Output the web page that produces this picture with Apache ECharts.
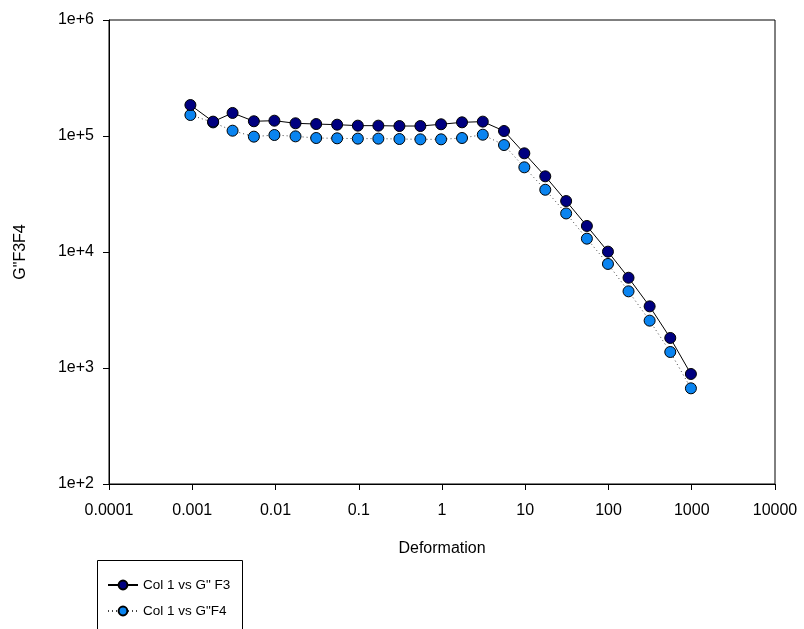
<!DOCTYPE html>
<html>
<head>
<meta charset="utf-8">
<script src="https://cdn.jsdelivr.net/npm/echarts@6/dist/echarts.min.js"></script>
<style>
html,body{margin:0;padding:0;background:#fff;}
#c{width:804px;height:629px;}
</style>
</head>
<body>
<div id="c"></div>
<script>
var xValues = [0.00095, 0.00178, 0.00305, 0.0055, 0.0097, 0.0174, 0.0308, 0.055, 0.0975, 0.172, 0.308, 0.55, 0.975, 1.74, 3.09, 5.56, 9.75, 17.4, 31, 55, 98.5, 174, 312, 552, 977];
var gF3 = [185000, 133000, 158000, 134000, 135500, 128700, 126800, 125200, 122800, 122800, 121900, 121900, 126200, 131200, 133000, 110400, 70900, 44900, 27500, 16760, 10070, 6000, 3400, 1815, 888];
var gF4 = [151700, 131000, 111100, 98700, 102000, 99300, 96100, 95500, 94900, 94900, 94200, 93600, 93600, 96100, 102600, 83600, 53700, 34400, 21500, 13030, 7890, 4580, 2560, 1374, 668];
var xTickLabels = ['0.0001', '0.001', '0.01', '0.1', '1', '10', '100', '1000', '10000'];
var yTickLabels = ['1e+2', '1e+3', '1e+4', '1e+5', '1e+6'];
var seriesNames = ['Col 1 vs G" F3', 'Col 1 vs G"F4'];
var xTitle = 'Deformation';
var yTitle = 'G"F3F4';

function pairs(xs, ys) { return xs.map(function (x, i) { return [x, ys[i]]; }); }

var chart = echarts.init(document.getElementById('c'), null, {renderer: 'canvas'});
var font = 'Liberation Sans, Arial, sans-serif';
chart.setOption({
  animation: false,
  backgroundColor: '#ffffff',
  grid: {left: 109, right: 29, top: 20, bottom: 145, show: true, borderColor: '#000', borderWidth: 1, containLabel: false},
  xAxis: {
    type: 'log', logBase: 10, min: 0.0001, max: 10000,
    name: xTitle, nameLocation: 'middle', nameGap: 57,
    nameTextStyle: {fontFamily: font, fontSize: 16, color: '#000'},
    axisLine: {show: true, onZero: false, lineStyle: {color: '#000', width: 1}},
    axisTick: {show: true, inside: false, length: 6, lineStyle: {color: '#000'}},
    minorTick: {show: false},
    splitLine: {show: false},
    axisLabel: {fontFamily: font, fontSize: 16, color: '#000', margin: 19,
      formatter: function (v) { var k = Math.round(Math.log10(v)) + 4; return xTickLabels[k] || ''; }}
  },
  yAxis: {
    type: 'log', logBase: 10, min: 100, max: 1000000,
    name: yTitle, nameLocation: 'middle', nameGap: 80, nameRotate: 90,
    nameTextStyle: {fontFamily: font, fontSize: 16, color: '#000'},
    axisLine: {show: true, onZero: false, lineStyle: {color: '#000', width: 1}},
    axisTick: {show: true, inside: false, length: 6, lineStyle: {color: '#000'}},
    minorTick: {show: false},
    splitLine: {show: false},
    axisLabel: {fontFamily: font, fontSize: 16, color: '#000', margin: 15,
      formatter: function (v) { var k = Math.round(Math.log10(v)) - 2; return yTickLabels[k] || ''; }}
  },
  legend: {
    orient: 'vertical', left: 102, top: 573, itemWidth: 30, itemHeight: 11, itemGap: 12,
    textStyle: {fontFamily: font, fontSize: 13.5, color: '#000'},
    data: seriesNames
  },
  graphic: [{type: 'rect', shape: {x: 97.5, y: 560.5, width: 145, height: 90}, style: {fill: null, stroke: '#000', lineWidth: 1}, z: 100}],
  series: [
    {
      name: seriesNames[1], type: 'line', data: pairs(xValues, gF4),
      symbol: 'circle', symbolSize: 11,
      itemStyle: {color: '#0a84f0', borderColor: '#000', borderWidth: 1},
      lineStyle: {color: '#444', width: 1, type: [1, 3]}, z: 2
    },
    {
      name: seriesNames[0], type: 'line', data: pairs(xValues, gF3),
      symbol: 'circle', symbolSize: 11,
      itemStyle: {color: '#000080', borderColor: '#000', borderWidth: 1},
      lineStyle: {color: '#000', width: 1, type: 'solid'}, z: 3
    }
  ]
});
</script>
</body>
</html>
